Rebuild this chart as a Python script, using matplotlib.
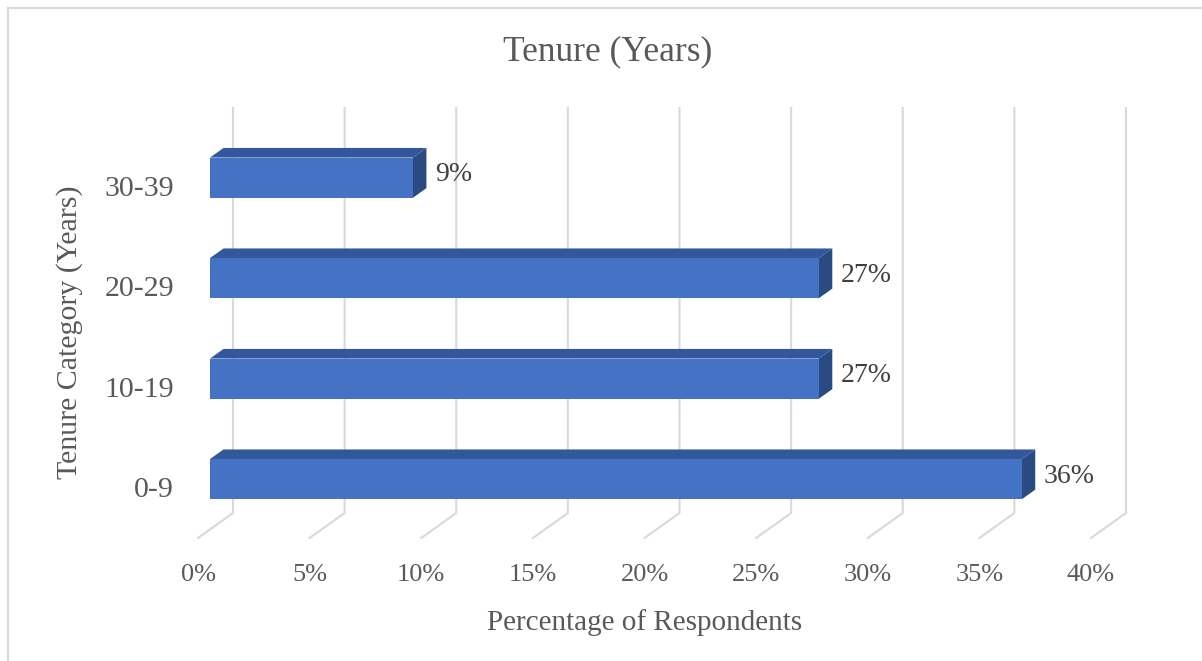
import matplotlib.pyplot as plt
from matplotlib.patches import Polygon, Rectangle
from matplotlib.lines import Line2D

plt.rcParams['font.family'] = ['Liberation Serif', 'DejaVu Serif']

# share of respondents per tenure band (4, 3, 3 and 1 of 11 people)
categories = ["0-9", "10-19", "20-29", "30-39"]
shares = [36.36, 27.27, 27.27, 9.09]
x_ticks = [0, 5, 10, 15, 20, 25, 30, 35, 40]

W, H = 1202, 661
fig = plt.figure(figsize=(W / 100, H / 100), dpi=100)
ax = fig.add_axes([198 / W, 123 / H, 893 / W, 402 / H])
ax.set_xlim(0, 40)
ax.set_ylim(-0.5, len(categories) - 0.5)
ax.axis('off')

# size of one data unit in pixels, used to turn the 3D depth offsets into data units
p0 = ax.transData.transform((0, 0))
p1 = ax.transData.transform((1, 1))
ppx, ppy = p1[0] - p0[0], p1[1] - p0[1]


def off(dx, dy):
    return dx / ppx, dy / ppy


grid_col = '#D9D9D9'
front_col = '#4472C4'
top_col = '#32579A'
side_col = '#2A4A82'
text_col = '#595959'

# floor depth, bar position inside the depth, bar thickness
fdx, fdy = off(35, 25)
bdx, bdy = off(12, 8.6)
ddx, ddy = off(13.5, 9.6)
y0, y1 = -0.5, len(categories) - 0.5
_, top_extra = off(0, 3)

# gridlines: slanted on the floor, then straight up the back wall
for t in x_ticks:
    ax.plot([t, t + fdx, t + fdx], [y0, y0 + fdy, y1 + fdy + top_extra],
            color=grid_col, lw=1.5, clip_on=False, solid_joinstyle='miter',
            zorder=1)
    lx, ly = off(0, -37)
    ax.text(t, y0 + ly, f"{t}%", ha='center', va='center', fontsize=19,
            color=text_col)

# 3D bars: side face, top face, front face
h = 0.4
for i, v in enumerate(shares):
    yc = i + bdy
    x0 = bdx
    side = Polygon([(x0 + v, yc - h / 2), (x0 + v + ddx, yc - h / 2 + ddy),
                    (x0 + v + ddx, yc + h / 2 + ddy), (x0 + v, yc + h / 2)],
                   closed=True, facecolor=side_col, edgecolor='none',
                   clip_on=False, zorder=3)
    top = Polygon([(x0, yc + h / 2), (x0 + v, yc + h / 2),
                   (x0 + v + ddx, yc + h / 2 + ddy), (x0 + ddx, yc + h / 2 + ddy)],
                  closed=True, facecolor=top_col, edgecolor='none',
                  clip_on=False, zorder=3)
    front = Rectangle((x0, yc - h / 2), v, h, facecolor=front_col,
                      edgecolor='none', clip_on=False, zorder=4)
    for p in (side, top, front):
        ax.add_patch(p)
    gx, gy = off(8.5, 11.5)
    ax.text(x0 + v + ddx + gx, i + gy, f"{v:.0f}%", ha='left', va='center',
            fontsize=20, color='#404040')

# category labels
cx, cy = off(-24, -2.5)
for i, c in enumerate(categories):
    ax.text(cx, i + cy, c, ha='right', va='center', fontsize=21.5,
            color=text_col)

fig.text(608 / W, 1 - 52 / H, "Tenure (Years)", ha='center', va='center',
         fontsize=25.5, color=text_col)
fig.text(645 / W, 1 - 623 / H, "Percentage of Respondents", ha='center',
         va='center', fontsize=21, color=text_col)
fig.text(70 / W, 1 - 332 / H, "Tenure Category (Years)", ha='center',
         va='center', rotation=90, fontsize=21.5, color=text_col)

# chart area border (left and top edges)
fig.add_artist(Line2D([7.5 / W, 7.5 / W], [0, 1 - 7.5 / H], color=grid_col, lw=1.5))
fig.add_artist(Line2D([7.5 / W, 1], [1 - 7.5 / H, 1 - 7.5 / H], color=grid_col, lw=1.5))

fig.savefig('out.png', dpi=100)
